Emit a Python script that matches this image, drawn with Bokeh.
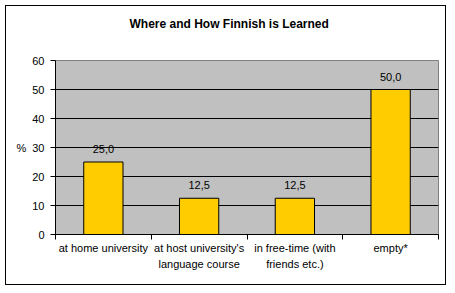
from bokeh.plotting import figure
from bokeh.models import Range1d, FixedTicker, ColumnDataSource
from bokeh.embed import file_html
from bokeh.resources import INLINE
from bokeh.core.properties import value

title = "Where and How Finnish is Learned"
categories = ["at home university", "at host university's\nlanguage course",
              "in free-time (with\nfriends etc.)", "empty*"]
values = [25.0, 12.5, 12.5, 50.0]
y_ticks = [0, 10, 20, 30, 40, 50, 60]
y_label = "%"

FONT = "Liberation Sans"
n = len(categories)
centers = [i + 0.5 for i in range(n)]
labels = [f"{v:.1f}".replace(".", ",") for v in values]

src = ColumnDataSource(dict(x=centers, top=values, lab=labels))

p = figure(width=441, height=280, output_backend="svg", toolbar_location=None,
           x_range=Range1d(0, n), y_range=Range1d(0, 60),
           min_border_left=49, min_border_right=9, min_border_top=54, min_border_bottom=52,
           margin=(5, 0, 0, 5), styles={"border": "1px solid black"})
p.background_fill_color = "#C0C0C0"
p.border_fill_color = "white"
p.outline_line_color = "#808080"

# blank trailing lines only lift the title away from the plot area
p.title.text = title + "\n \n "
p.title.align = "left"
p.title.offset = 74
p.title.standoff = 4
p.title.vertical_align = "bottom"
p.title.text_font = FONT
p.title.text_font_size = "12px"
p.title.text_font_style = "bold"
p.title.text_color = "black"

p.vbar(x="x", top="top", bottom=0, width=0.41, source=src,
       fill_color="#FFCC00", line_color="black", line_width=1)
p.text(x="x", y="top", text="lab", source=src, text_align="center",
       text_baseline="alphabetic", y_offset=-13, text_font=value(FONT),
       text_font_size="11px", text_color="black")

# y axis
p.yaxis.ticker = FixedTicker(ticks=y_ticks)
p.yaxis.major_tick_out = 5
p.yaxis.major_tick_in = 0
p.yaxis.minor_tick_line_color = None
p.yaxis.major_label_standoff = 6
p.yaxis.axis_line_color = "black"
p.yaxis.major_label_text_font = FONT
p.yaxis.major_label_text_font_size = "11px"
p.yaxis.major_label_text_color = "black"
p.yaxis.axis_label = y_label
p.yaxis.axis_label_orientation = "horizontal"
p.yaxis.axis_label_standoff = 3
p.yaxis.axis_label_text_font = FONT
p.yaxis.axis_label_text_font_size = "11px"
p.yaxis.axis_label_text_font_style = "normal"
p.yaxis.axis_label_text_color = "black"

# x axis
p.xaxis.ticker = FixedTicker(ticks=centers, minor_ticks=list(range(n + 1)))
p.xaxis.major_label_overrides = {c: lab for c, lab in zip(centers, categories)}
p.xaxis.major_tick_out = 0
p.xaxis.major_tick_in = 0
p.xaxis.minor_tick_out = 5
p.xaxis.minor_tick_in = 0
p.xaxis.minor_tick_line_color = "black"
p.xaxis.major_label_standoff = 2
p.xaxis.axis_line_color = "black"
p.xaxis.major_label_text_font = FONT
p.xaxis.major_label_text_font_size = "11px"
p.xaxis.major_label_text_line_height = 1.4
p.xaxis.major_label_text_color = "black"

p.xgrid.grid_line_color = None
p.ygrid.ticker = FixedTicker(ticks=y_ticks[1:-1])
p.ygrid.grid_line_color = "black"
p.ygrid.grid_line_alpha = 1

open("out.html", "w").write(file_html(p, INLINE))
